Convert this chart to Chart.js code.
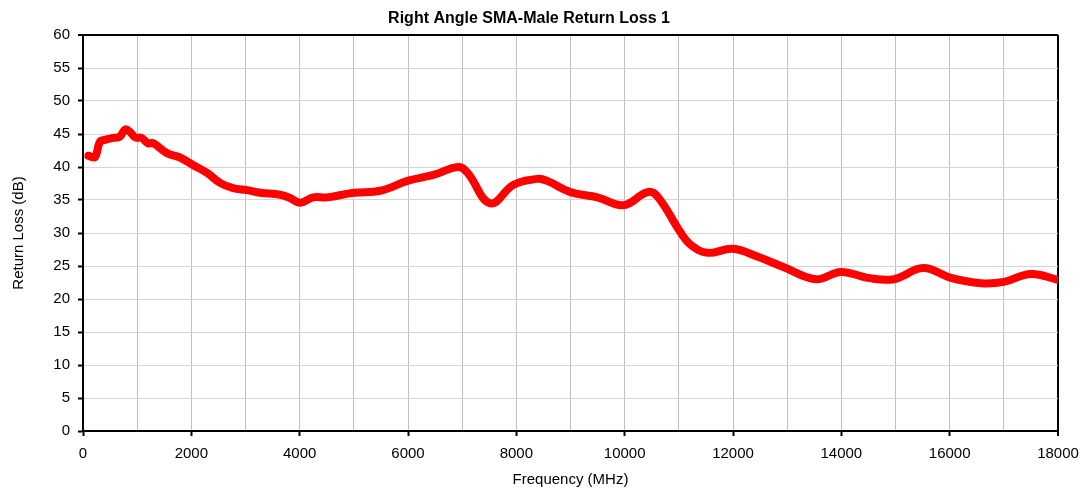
<!DOCTYPE html>
<html><head><meta charset="utf-8">
<script src="https://cdn.jsdelivr.net/npm/chart.js@4/dist/chart.umd.min.js"></script>
<style>html,body{margin:0;padding:0;background:#fff;}#wrap{width:1086px;height:489px;}</style>
</head><body><div id="wrap"><canvas id="c" width="1086" height="489"></canvas></div>
<script>
const chartTitle = 'Right Angle SMA-Male Return Loss 1';
const xTitle = 'Frequency (MHz)';
const yTitle = 'Return Loss (dB)';
const frequencies = [100,220,310,400,550,680,780,870,960,1080,1200,1300,1550,1800,2030,2290,2530,2770,3030,3270,3640,3820,4010,4250,4510,5000,5490,5990,6470,6930,7100,7520,7950,8390,8570,9000,9500,9980,10420,10610,11030,11220,11530,12000,12460,12940,13530,13990,14490,14970,15510,16020,16580,17000,17500,18000];
const returnLoss = [41.7,41.5,43.8,44.1,44.4,44.6,45.7,45.3,44.5,44.4,43.6,43.6,42.1,41.4,40.3,39.1,37.6,36.8,36.5,36.1,35.8,35.3,34.6,35.4,35.4,36.1,36.4,37.9,38.8,40.0,39.1,34.5,37.3,38.2,37.9,36.2,35.4,34.2,36.2,35.5,30.1,28.2,27.0,27.6,26.4,24.8,23.0,24.1,23.2,23.0,24.7,23.2,22.4,22.6,23.8,22.9];
const xMin = 0, xMax = 18000, xGridStep = 1000, xLabelStep = 2000;
const yMin = 0, yMax = 60, yStep = 5;

const font = 'Liberation Sans, Arial, sans-serif';
new Chart(document.getElementById('c'), {
  type: 'line',
  data: {
    datasets: [{
      data: frequencies.map((f, i) => ({x: f, y: returnLoss[i]})),
      borderColor: '#ff0000',
      borderWidth: 8,
      pointRadius: 0,
      tension: 0.4,
      borderCapStyle: 'round',
      borderJoinStyle: 'round',
      fill: false
    }]
  },
  options: {
    responsive: false,
    animation: false,
    layout: {padding: {left: 0, right: 28, top: 0, bottom: 0}},
    plugins: {
      legend: {display: false},
      tooltip: {enabled: false},
      title: {display: true, text: chartTitle, color: '#000',
        font: {family: font, size: 16, weight: 'bold'}, padding: {top: 9, bottom: 6.8}}
    },
    scales: {
      x: {
        type: 'linear', min: xMin, max: xMax,
        afterFit: s => { s.height = 58; s.paddingRight = 0; },
        ticks: {stepSize: xGridStep, color: '#000', font: {family: font, size: 15}, padding: 9,
          maxRotation: 0, autoSkip: false,
          callback: v => (v % xLabelStep === 0 ? String(v) : '')},
        grid: {
          color: c => (c.tick && (c.tick.value === xMax) ? '#000' : '#c0c0c0'),
          lineWidth: c => (c.tick && (c.tick.value === xMax) ? 2 : 1),
          tickColor: c => (c.tick && c.tick.value % xLabelStep === 0 ? '#000' : 'rgba(0,0,0,0)'),
          tickLength: 5, tickWidth: 2
        },
        border: {display: true, color: '#000', width: 2},
        title: {display: true, text: xTitle, color: '#000', font: {family: font, size: 15}, padding: {top: 6, bottom: 0}}
      },
      y: {
        min: yMin, max: yMax,
        afterFit: s => { s.width = 83; },
        ticks: {stepSize: yStep, color: '#000', font: {family: font, size: 15}, padding: 8},
        grid: {
          color: c => (c.tick && c.tick.value === yMax ? '#000' : '#d4d4d4'),
          lineWidth: c => (c.tick && c.tick.value === yMax ? 2 : 1),
          tickColor: '#000', tickLength: 5, tickWidth: 2
        },
        border: {display: true, color: '#000', width: 2},
        title: {display: true, text: yTitle, color: '#000', font: {family: font, size: 15}, padding: {top: 10, bottom: 4}}
      }
    }
  }
});
</script></body></html>
